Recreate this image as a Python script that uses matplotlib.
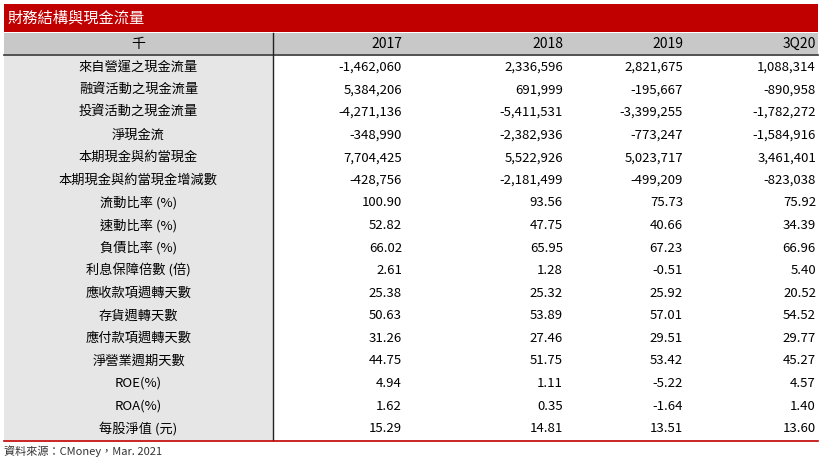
import matplotlib.pyplot as plt
import matplotlib.patches as mpatches

plt.rcParams['font.family'] = ['Noto Sans CJK TC', 'DejaVu Sans']

TITLE = '財務結構與現金流量'
UNIT = '千'
PERIODS = ['2017', '2018', '2019', '3Q20']
ROW_LABELS = ['來自營運之現金流量', '融資活動之現金流量', '投資活動之現金流量', '淨現金流',
              '本期現金與約當現金', '本期現金與約當現金增減數', '流動比率 (%)', '速動比率 (%)',
              '負債比率 (%)', '利息保障倍數 (倍)', '應收款項週轉天數', '存貨週轉天數',
              '應付款項週轉天數', '淨營業週期天數', 'ROE(%)', 'ROA(%)', '每股淨值 (元)']
V2017 = [-1462060, 5384206, -4271136, -348990, 7704425, -428756,
         100.90, 52.82, 66.02, 2.61, 25.38, 50.63, 31.26, 44.75, 4.94, 1.62, 15.29]
V2018 = [2336596, 691999, -5411531, -2382936, 5522926, -2181499,
         93.56, 47.75, 65.95, 1.28, 25.32, 53.89, 27.46, 51.75, 1.11, 0.35, 14.81]
V2019 = [2821675, -195667, -3399255, -773247, 5023717, -499209,
         75.73, 40.66, 67.23, -0.51, 25.92, 57.01, 29.51, 53.42, -5.22, -1.64, 13.51]
V3Q20 = [1088314, -890958, -1782272, -1584916, 3461401, -823038,
         75.92, 34.39, 66.96, 5.40, 20.52, 54.52, 29.77, 45.27, 4.57, 1.40, 13.60]
N_MONEY_ROWS = 6
SOURCE = '資料來源：CMoney，Mar. 2021'

W, H = 820, 457
fig = plt.figure(figsize=(W / 100, H / 100), dpi=100)
ax = fig.add_axes([0, 0, 1, 1])
ax.set_xlim(0, W)
ax.set_ylim(H, 0)
ax.axis('off')

x0, x1, xsep = 4, 818, 273
col_right = [402, 563, 683, 816]

# title bar
ax.add_patch(mpatches.Rectangle((x0, 4), x1 - x0, 28, color='#c00000', lw=0))
ax.text(8, 18, TITLE, color='white', fontsize=11, va='center', ha='left')

# header row
ax.add_patch(mpatches.Rectangle((x0, 33), x1 - x0, 21, color='#c8c8c8', lw=0))
ax.text(xsep / 2 + 2, 44, UNIT, fontsize=10, va='center', ha='center')
for xr, p in zip(col_right, PERIODS):
    ax.text(xr, 44, p, fontsize=10, va='center', ha='right')
ax.plot([x0, x1], [55, 55], color='#333333', lw=1.2)

# body
top, bot = 56, 440
rh = (bot - top) / len(ROW_LABELS)
ax.add_patch(mpatches.Rectangle((x0, top), xsep - x0, bot - top, color='#e6e6e6', lw=0))
ax.plot([xsep, xsep], [33, bot], color='#222222', lw=1.0)
ax.plot([x0, x1], [bot + 1, bot + 1], color='#c00000', lw=1.2)

for i, lab in enumerate(ROW_LABELS):
    y = top + rh * (i + 0.5)
    ax.text(xsep / 2 + 2, y, lab, fontsize=9.5, va='center', ha='center')
    for xr, col in zip(col_right, [V2017, V2018, V2019, V3Q20]):
        v = col[i]
        s = f'{v:,.0f}' if i < N_MONEY_ROWS else f'{v:.2f}'
        ax.text(xr, y, s, fontsize=9.5, va='center', ha='right')

ax.text(4, 451, SOURCE, fontsize=8, va='center', ha='left', color='#333333')

fig.savefig('out.png', dpi=100)
